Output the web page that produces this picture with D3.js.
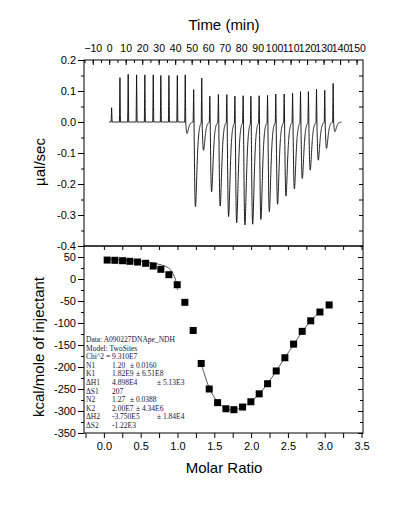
<!DOCTYPE html>
<html>
<head>
<meta charset="utf-8">
<script src="https://cdn.jsdelivr.net/npm/d3@7"></script>
<style>
  body { margin: 0; background: #fff; }
  svg { display: block; font-family: "Liberation Sans", Arial, sans-serif; }
</style>
</head>
<body>
<svg id="chart" width="413" height="516"></svg>
<script>
var injTime = [1.45, 6.5, 11.5, 16.6, 21.6, 26.7, 31.3, 36.2, 41.3, 46.1, 51.2, 56.1, 61.0, 66.2,
    71.3, 76.2, 81.2, 85.9, 90.9, 96.0, 101.0, 106.1, 111.2, 116.0, 120.8, 125.7, 130.7, 135.8];
var spikeHeight = [0.046, 0.143, 0.154, 0.152, 0.152, 0.152, 0.150, 0.150, 0.150, 0.152, 0.105, 0.144,
    0.084, 0.090, 0.090, 0.086, 0.087, 0.087, 0.087, 0.088, 0.092, 0.092, 0.094, 0.100, 0.100, 0.107, 0.103, 0.125];
var troughDepth = [0, 0, 0, 0, 0, 0, 0, 0, 0, -0.037, -0.273, -0.091, -0.225, -0.271, -0.305, -0.325,
    -0.332, -0.329, -0.314, -0.289, -0.265, -0.239, -0.216, -0.182, -0.155, -0.123, -0.085, -0.031];
var traceStart = 0, traceEnd = 140.8;

// integrated heats (kcal/mole of injectant)
var molarRatio = [0.045, 0.149, 0.254, 0.353, 0.458, 0.567, 0.670, 0.774, 0.883, 0.996, 1.100, 1.213,
    1.322, 1.431, 1.545, 1.658, 1.766, 1.884, 1.997, 2.110, 2.224, 2.341, 2.459, 2.577, 2.694, 2.810, 2.935, 3.060];
var heat = [43, 42.5, 41.6, 40.2, 38.6, 35.7, 29.5, 22, 9.8, -13, -53, -117,
    -192, -250, -281, -295, -297, -291, -279, -261, -238, -209, -179, -148, -119, -95, -75, -59];

// fitted curve (two visible pieces)
var fitRatioA = [0.04, 0.2, 0.35, 0.5, 0.6, 0.7, 0.78, 0.85, 0.9, 0.94, 0.97, 1.0];
var fitHeatA = [45, 44, 42.5, 40.5, 38.5, 35.5, 32, 28, 22, 12, 0, -25];
var fitRatioB = [1.322, 1.431, 1.545, 1.658, 1.766, 1.884, 1.997, 2.110, 2.224, 2.341, 2.459, 2.577, 2.694, 2.810, 2.955];
var fitHeatB = [-192, -247, -279, -294, -297, -291, -279, -261, -238, -209, -179, -149, -120, -95, -71];

// ticks
var timeTicks = d3.range(-10, 151, 10);
var powerTicks = [0.2, 0.1, 0.0, -0.1, -0.2, -0.3, -0.4];
var heatTicks = [50, 0, -50, -100, -150, -200, -250, -300, -350];
var ratioTicks = [0, 0.5, 1, 1.5, 2, 2.5, 3, 3.5];

var fitInfo = [
    ["Data: A090227DNApe_NDH"],
    ["Model: TwoSites"],
    ["Chi^2 = 9.310E7"],
    ["N1", "1.20", "\u00b1 0.0160"],
    ["K1", "1.82E9", "\u00b1 6.51E8"],
    ["\u0394H1", "4.898E4", "\u00b1 5.13E3"],
    ["\u0394S1", "207"],
    ["N2", "1.27", "\u00b1 0.0388"],
    ["K2", "2.00E7", "\u00b1 4.34E6"],
    ["\u0394H2", "-3.750E5", "\u00b1 1.84E4"],
    ["\u0394S2", "-1.22E3"]
];

var svg = d3.select("#chart");
var left = 84, right = 363, topY = 60, midY = 246, botY = 433;

var xTime = d3.scaleLinear().domain([-15.3, 153.9]).range([left, right]);
var yPower = d3.scaleLinear().domain([-0.4, 0.2]).range([midY, topY]);
var xRatio = d3.scaleLinear().domain([-0.27, 3.52]).range([left, right]);
var yHeat = d3.scaleLinear().domain([-350, 75]).range([botY, midY]);

svg.append("defs").append("clipPath").attr("id", "clipTop")
    .append("rect").attr("x", left).attr("y", topY).attr("width", right - left).attr("height", midY - topY);

// build the trace from the per-injection values
function spikeShape(s) {
    var a = Math.abs(s);
    return a < 0.3 ? 1 - a / 0.3 : 0;
}
function troughShape(s) {
    if (s <= 0.15) return 0;
    var u = (s - 0.15) / 0.95;
    return u * u * Math.exp(2 * (1 - u));
}
var times = d3.range(traceStart, traceEnd, 0.05).concat(injTime, [traceEnd]).sort(d3.ascending);
var trace = times.map(function (t) {
    var v = 0;
    injTime.forEach(function (ti, i) {
        v += spikeHeight[i] * spikeShape(t - ti) + troughDepth[i] * troughShape(t - ti);
    });
    return [t, v];
});

svg.append("path")
    .datum(trace)
    .attr("clip-path", "url(#clipTop)")
    .attr("fill", "none")
    .attr("stroke", "#111")
    .attr("stroke-width", 0.95)
    .attr("d", d3.line().x(function (d) {return xTime(d[0]);}).y(function (d) {return yPower(d[1]);}));

// fit lines
var fitLine = d3.line().curve(d3.curveCatmullRom)
    .x(function (d) {return xRatio(d[0]);})
    .y(function (d) {return yHeat(d[1]);});
[[fitRatioA, fitHeatA], [fitRatioB, fitHeatB]].forEach(function (p) {
    svg.append("path")
        .datum(d3.zip(p[0], p[1]))
        .attr("fill", "none")
        .attr("stroke", "#444")
        .attr("stroke-width", 0.9)
        .attr("d", fitLine);
});

// squares
svg.append("g").selectAll("rect")
    .data(d3.zip(molarRatio, heat))
    .enter().append("rect")
    .attr("x", function (d) {return xRatio(d[0]) - 3.5;})
    .attr("y", function (d) {return yHeat(d[1]) - 3.5;})
    .attr("width", 7)
    .attr("height", 7)
    .attr("fill", "#000");

// axes
function styleAxis(g) {
    g.select(".domain").remove();
    g.selectAll("line").attr("stroke", "#000");
    g.selectAll("text").attr("fill", "#000").style("font-size", "11px")
        .style("font-family", '"Liberation Sans", Arial, sans-serif');
}
function fmt1(d) {return d.toFixed(1);}
function minor(lo, hi, step) {return d3.range(lo, hi + 1e-9, step);}

// top panel
svg.append("g").attr("transform", "translate(0," + topY + ")")
    .call(d3.axisTop(xTime).tickValues(timeTicks).tickSizeInner(-5).tickSizeOuter(0).tickPadding(8))
    .call(styleAxis)
    .selectAll("text").style("font-size", "10.5px");
svg.append("g").attr("transform", "translate(0," + topY + ")")
    .call(d3.axisTop(xTime).tickValues(minor(-15, 150, 5)).tickSizeInner(-3).tickSizeOuter(0).tickFormat(""))
    .call(styleAxis);
svg.append("g").attr("transform", "translate(" + left + ",0)")
    .call(d3.axisLeft(yPower).tickValues(powerTicks).tickSize(6).tickPadding(2).tickFormat(fmt1))
    .call(styleAxis);
svg.append("g").attr("transform", "translate(" + left + ",0)")
    .call(d3.axisLeft(yPower).tickValues(minor(-0.35, 0.15, 0.1)).tickSize(3).tickFormat(""))
    .call(styleAxis);
svg.append("g").attr("transform", "translate(" + right + ",0)")
    .call(d3.axisRight(yPower).tickValues(minor(-0.35, 0.15, 0.05)).tickSizeInner(-4).tickSizeOuter(0).tickFormat(""))
    .call(styleAxis);

// bottom panel
svg.append("g").attr("transform", "translate(0," + botY + ")")
    .call(d3.axisBottom(xRatio).tickValues(ratioTicks).tickSize(5).tickPadding(4).tickFormat(fmt1))
    .call(styleAxis);
svg.append("g").attr("transform", "translate(0," + botY + ")")
    .call(d3.axisBottom(xRatio).tickValues(minor(-0.25, 3.25, 0.5)).tickSize(5).tickFormat(""))
    .call(styleAxis);
svg.append("g").attr("transform", "translate(0," + midY + ")")
    .call(d3.axisBottom(xRatio).tickValues(minor(0, 3.5, 0.25)).tickSizeInner(4).tickSizeOuter(0).tickFormat(""))
    .call(styleAxis);
svg.append("g").attr("transform", "translate(" + left + ",0)")
    .call(d3.axisLeft(yHeat).tickValues(heatTicks).tickSize(6).tickPadding(2).tickFormat(function (d) {return String(d);}))
    .call(styleAxis);
svg.append("g").attr("transform", "translate(" + left + ",0)")
    .call(d3.axisLeft(yHeat).tickValues(minor(-325, 75, 50)).tickSize(3).tickFormat(""))
    .call(styleAxis);
svg.append("g").attr("transform", "translate(" + right + ",0)")
    .call(d3.axisRight(yHeat).tickValues(heatTicks).tickSizeInner(-5).tickSizeOuter(0).tickFormat(""))
    .call(styleAxis);
svg.append("g").attr("transform", "translate(" + right + ",0)")
    .call(d3.axisRight(yHeat).tickValues(minor(-325, 75, 50)).tickSizeInner(-3).tickSizeOuter(0).tickFormat(""))
    .call(styleAxis);

// frames
[[topY, midY], [midY, botY]].forEach(function (p) {
    svg.append("rect")
        .attr("x", left).attr("y", p[0])
        .attr("width", right - left).attr("height", p[1] - p[0])
        .attr("fill", "none").attr("stroke", "#000").attr("stroke-width", 1);
});

// titles
svg.append("text").attr("x", 224).attr("y", 30).attr("text-anchor", "middle")
    .style("font-size", "15px").text("Time (min)");
svg.append("text").attr("x", 224).attr("y", 473).attr("text-anchor", "middle")
    .style("font-size", "15px").text("Molar Ratio");
svg.append("text").attr("transform", "translate(45,162) rotate(-90)").attr("text-anchor", "middle")
    .style("font-size", "15px").text("\u00b5al/sec");
svg.append("text").attr("transform", "translate(44,347) rotate(-90)").attr("text-anchor", "middle")
    .style("font-size", "15px").text("kcal/mole of injectant");

// fit report; the error follows the value, or sits at its tab column
var info = svg.append("g")
    .style("font-family", '"Liberation Serif", "Times New Roman", serif')
    .style("font-size", "7.5px")
    .attr("fill", "#15153a");
fitInfo.forEach(function (row, i) {
    var y = 342 + i * 8.6;
    info.append("text").attr("x", 86).attr("y", y).text(row[0]);
    if (!row[1]) return;
    var v = info.append("text").attr("x", 112).attr("y", y).text(row[1]);
    if (!row[2]) return;
    var tab = row[0].indexOf("\u0394H") === 0 ? 157 : 130;
    var end = 112 + v.node().getComputedTextLength() + 2.5;
    info.append("text").attr("x", Math.max(tab, end)).attr("y", y).text(row[2]);
});
</script>
</body>
</html>
